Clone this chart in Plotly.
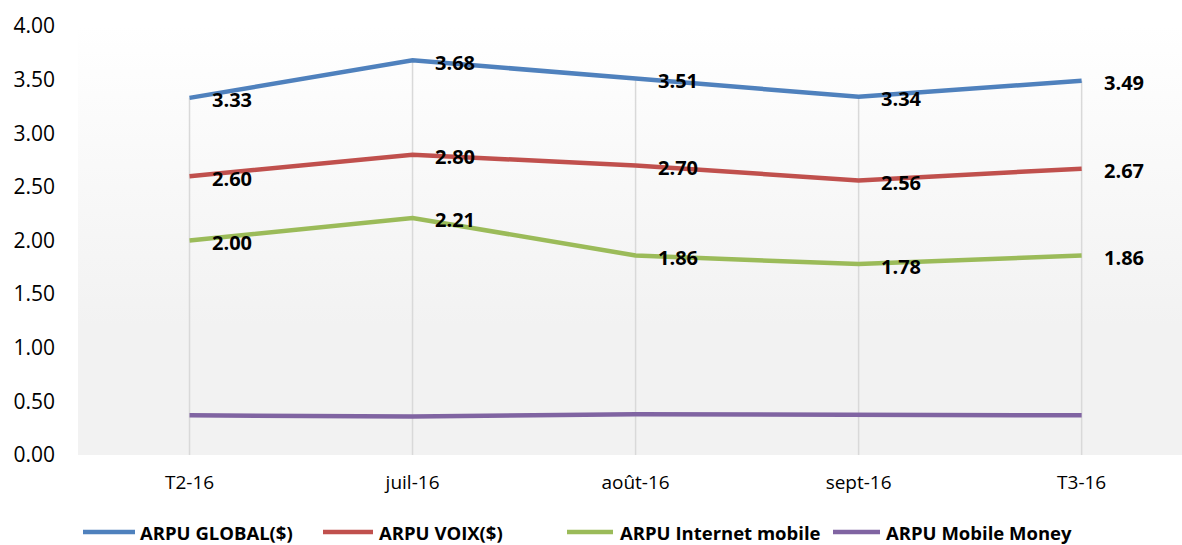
import plotly.graph_objects as go

categories = ["T2-16", "juil-16", "août-16", "sept-16", "T3-16"]
series_names = ["ARPU GLOBAL($)", "ARPU VOIX($)", "ARPU Internet mobile", "ARPU Mobile Money"]
arpu_global = [3.33, 3.68, 3.51, 3.34, 3.49]
arpu_voix = [2.60, 2.80, 2.70, 2.56, 2.67]
arpu_internet = [2.00, 2.21, 1.86, 1.78, 1.86]
arpu_mm = [0.37, 0.36, 0.38, 0.37, 0.37]
show_labels = [True, True, True, False]
y_ticks = [0, 0.5, 1, 1.5, 2, 2.5, 3, 3.5, 4]

colors = ["#4f81bd", "#c0504d", "#9bbb59", "#8064a2"]
all_series = [arpu_global, arpu_voix, arpu_internet, arpu_mm]

W, H = 1182, 545
ML, MR, MT, MB = 78, 0, 26, 90
PW = W - ML - MR
PH = H - MT - MB
X_MAX = 4.45

fig = go.Figure()

# background gradient panel
fig.add_trace(go.Scatter(
    x=[-0.5, X_MAX, X_MAX, -0.5, -0.5], y=[0, 0, 4, 4, 0],
    mode="lines", line=dict(width=0), fill="toself",
    fillgradient=dict(type="vertical",
                      colorscale=[[0, "#f2f2f2"], [0.3, "#f2f2f2"], [1, "#ffffff"]]),
    hoverinfo="skip", showlegend=False))

# drop lines
xs, ys = [], []
for i in range(len(categories)):
    top = max(s[i] for s in all_series)
    xs += [i, i, None]
    ys += [0, top, None]
fig.add_trace(go.Scatter(x=xs, y=ys, mode="lines",
                         line=dict(color="#d9d9d9", width=1.5),
                         hoverinfo="skip", showlegend=False))

for name, vals, col in zip(series_names, all_series, colors):
    fig.add_trace(go.Scatter(x=list(range(len(categories))), y=vals, name=name,
                             mode="lines", line=dict(color=col, width=4.5),
                             showlegend=False))

annotations = []
for vals, show in zip(all_series, show_labels):
    if not show:
        continue
    for i, v in enumerate(vals):
        annotations.append(dict(
            x=i, y=v, xref="x", yref="y", text=f"{v:.2f}", showarrow=False,
            xanchor="left", yanchor="middle", xshift=20, yshift=-2,
            font=dict(family="Open Sans", size=20, color="#000000", weight="bold")))

# custom legend (pixel positions)
leg_y_px = 532
legend_items = [(83, 135, 138), (323, 373, 377), (567, 613, 618), (833, 880, 884)]
shapes = []
def px_to_paper_x(px):
    return (px - ML) / PW
def px_to_paper_y(py):
    return (H - MB - py) / PH
for (x0, x1, xt), name, col in zip(legend_items, series_names, colors):
    shapes.append(dict(type="line", xref="paper", yref="paper",
                       x0=px_to_paper_x(x0), x1=px_to_paper_x(x1),
                       y0=px_to_paper_y(leg_y_px), y1=px_to_paper_y(leg_y_px),
                       line=dict(color=col, width=4.5)))
    annotations.append(dict(x=px_to_paper_x(xt), y=px_to_paper_y(leg_y_px),
                            xref="paper", yref="paper", text=name, showarrow=False,
                            xanchor="left", yanchor="middle",
                            font=dict(family="Open Sans", size=18.5, color="#000000", weight="bold")))

fig.update_layout(
    width=W, height=H,
    margin=dict(l=ML, r=MR, t=MT, b=MB),
    paper_bgcolor="#ffffff", plot_bgcolor="rgba(0,0,0,0)",
    annotations=annotations, shapes=shapes,
    showlegend=False,
    font=dict(family="Open Sans", color="#000000"),
)
fig.update_xaxes(range=[-0.5, X_MAX], tickmode="array",
                 tickvals=list(range(len(categories))), ticktext=categories,
                 showgrid=False, zeroline=False, showline=False, ticks="",
                 tickfont=dict(size=19, color="#000000"), ticklabelstandoff=14)
fig.update_yaxes(range=[0, 4], tickvals=y_ticks, tickformat=".2f",
                 showgrid=False, zeroline=False, showline=False, ticks="",
                 tickfont=dict(size=21, color="#000000"), ticklabelstandoff=22)

fig.write_html("out.html", config={"displayModeBar": False},
               post_script="document.body.style.margin='0';document.body.style.overflow='hidden';")
